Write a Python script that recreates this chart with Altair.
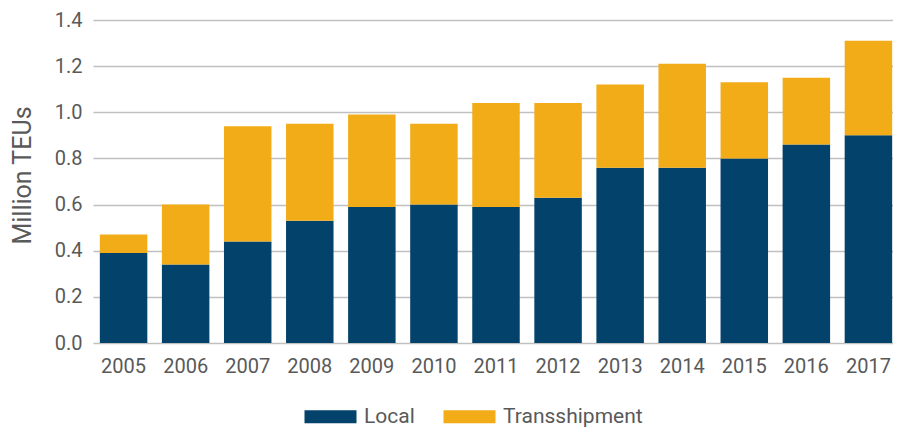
import altair as alt
import pandas as pd

years = ["2005", "2006", "2007", "2008", "2009", "2010", "2011",
         "2012", "2013", "2014", "2015", "2016", "2017"]
local = [0.39, 0.34, 0.44, 0.53, 0.59, 0.60, 0.59, 0.63, 0.76, 0.76, 0.80, 0.86, 0.90]
transshipment = [0.08, 0.26, 0.50, 0.42, 0.40, 0.35, 0.45, 0.41, 0.36, 0.45, 0.33, 0.29, 0.41]
series = ["Local", "Transshipment"]
colors = ["#03426a", "#f2ac18"]

rows = []
for y, l, t in zip(years, local, transshipment):
    rows.append({"year": y, "type": series[0], "value": l, "ord": 0})
    rows.append({"year": y, "type": series[1], "value": t, "ord": 1})
df = pd.DataFrame(rows)

FONT = "Roboto"
TXT = "#595959"

chart = alt.Chart(df).mark_bar().encode(
    x=alt.X("year:N", sort=years,
            scale=alt.Scale(range=[0, 806], paddingInner=0.235, paddingOuter=0.11),
            axis=alt.Axis(title=None, labelAngle=0, ticks=False, domain=False,
                          labelFontSize=20, labelColor=TXT, labelFont=FONT,
                          labelPadding=13, grid=False)),
    y=alt.Y("value:Q", stack="zero",
            scale=alt.Scale(domain=[0, 1.4], nice=False),
            axis=alt.Axis(title="Million TEUs", values=[0, 0.2, 0.4, 0.6, 0.8, 1.0, 1.2, 1.4],
                          format=".1f", ticks=False, domain=False,
                          labelFontSize=20, labelColor=TXT, labelFont=FONT, labelPadding=11,
                          titleFontSize=25, titleColor=TXT, titleFont=FONT,
                          titleFontWeight="normal", titleX=-71, titleY=155,
                          titleAlign="center", titleBaseline="middle", titleAngle=-90,
                          gridColor="#c0c0c0", gridWidth=1.5)),
    color=alt.Color("type:N", sort=series,
                    scale=alt.Scale(domain=series, range=colors),
                    legend=alt.Legend(title=None, orient="none", direction="horizontal",
                                      legendX=227, legendY=386,
                                      symbolType="M-4,-1H4V1H-4Z", symbolSize=169,
                                      symbolStrokeWidth=0, symbolOpacity=1,
                                      labelOffset=23, labelFontSize=21, labelColor=TXT,
                                      labelFont=FONT, columnPadding=28, padding=0)),
    order=alt.Order("ord:Q", sort="ascending"),
).properties(
    width=800, height=323,
    autosize=alt.AutoSizeParams(type="none"),
    padding={"left": 85, "top": 12, "right": 0, "bottom": 84},
).configure_view(stroke=None)

chart.save("out.html", embed_options={"renderer": "svg", "actions": False})
